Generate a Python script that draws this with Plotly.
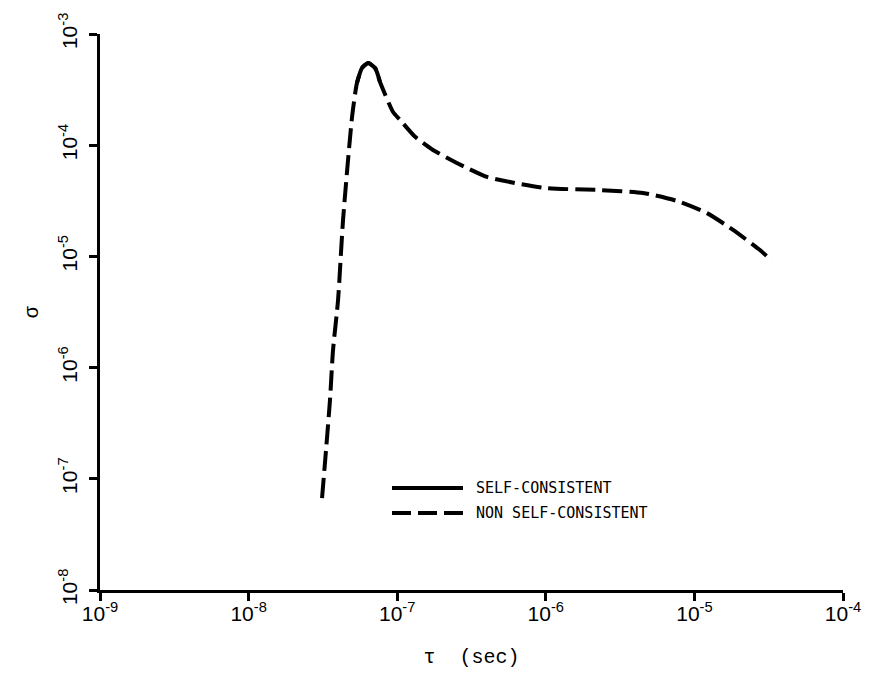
import plotly.graph_objects as go

# Relaxation time tau (sec) and sigma along the computed curve
tau = [3.12e-8, 3.32e-8, 3.53e-8, 3.70e-8, 4.00e-8, 4.32e-8, 4.97e-8, 5.36e-8,
       5.79e-8, 6.37e-8, 7.10e-8, 7.66e-8, 9.38e-8, 1.045e-7, 1.32e-7, 1.74e-7,
       2.52e-7, 4.02e-7, 4.92e-7, 9.9e-7, 2.32e-6, 4.51e-6, 7.64e-6, 1.216e-5,
       1.82e-5, 2.76e-5, 3.33e-5]
sigma = [6.7e-8, 1.82e-7, 5.12e-7, 1.44e-6, 4.06e-6, 2.12e-5, 1.80e-4, 3.62e-4,
         4.94e-4, 5.48e-4, 4.94e-4, 3.70e-4, 1.99e-4, 1.69e-4, 1.19e-4, 9.06e-5,
         6.92e-5, 5.18e-5, 4.86e-5, 4.12e-5, 3.95e-5, 3.72e-5, 3.15e-5, 2.45e-5,
         1.73e-5, 1.14e-5, 9.1e-6]

# Portion of the curve near the peak that is self-consistent
solid_from, solid_to = 7, 11

x_ticks = [1e-9, 1e-8, 1e-7, 1e-6, 1e-5, 1e-4]
x_labels = ["10<sup>-9</sup>", "10<sup>-8</sup>", "10<sup>-7</sup>",
            "10<sup>-6</sup>", "10<sup>-5</sup>", "10<sup>-4</sup>"]
y_ticks = [1e-8, 1e-7, 1e-6, 1e-5, 1e-4, 1e-3]
y_labels = ["10<sup>-8</sup>", "10<sup>-7</sup>", "10<sup>-6</sup>",
            "10<sup>-5</sup>", "10<sup>-4</sup>", "10<sup>-3</sup>"]

legend_names = ["SELF-CONSISTENT", "NON SELF-CONSISTENT"]

DASH = "20px,7px"
LW = 4

fig = go.Figure()
fig.add_trace(go.Scatter(x=tau, y=sigma, mode="lines",
                         line=dict(color="black", width=LW, dash=DASH,
                                   shape="spline", smoothing=0.6),
                         showlegend=False))
fig.add_trace(go.Scatter(x=tau[solid_from:solid_to + 1], y=sigma[solid_from:solid_to + 1],
                         mode="lines",
                         line=dict(color="black", width=LW, shape="spline", smoothing=0.6),
                         showlegend=False))

# Hand-placed key inside the plot area
PL, PR, PT, PB = 100, 843, 34, 590


def px(x):
    return (x - PL) / (PR - PL)


def py(y):
    return (PB - y) / (PB - PT)


key_rows = [488, 513]
for i, (row, name) in enumerate(zip(key_rows, legend_names)):
    fig.add_shape(type="line", xref="paper", yref="paper",
                  x0=px(392), x1=px(463), y0=py(row), y1=py(row),
                  line=dict(color="black", width=LW, dash=None if i == 0 else "19px,7px"))
    fig.add_annotation(xref="paper", yref="paper", x=px(474), y=py(row),
                       xanchor="left", yanchor="middle", showarrow=False,
                       text=name,
                       font=dict(family="DejaVu Sans Mono", size=15, color="black"))

axis_common = dict(
    type="log", showgrid=False, zeroline=False, showline=True,
    linecolor="black", linewidth=2.5, mirror=False, automargin=False,
    ticks="outside", ticklen=8, tickwidth=2.5, tickcolor="black",
    tickfont=dict(family="Liberation Sans", size=21, color="black"),
)

fig.update_layout(
    width=869, height=686,
    margin=dict(l=PL, r=869 - PR, t=PT, b=686 - PB),
    paper_bgcolor="white", plot_bgcolor="white",
    xaxis=dict(range=[-9, -4], tickvals=x_ticks, ticktext=x_labels,
               ticklabelstandoff=-5,
               title=dict(text="τ  (sec)", standoff=26,
                          font=dict(family="Liberation Mono", size=20, color="black")),
               **axis_common),
    yaxis=dict(range=[-8, -3], tickvals=y_ticks, ticktext=y_labels, tickangle=-90,
               ticklabelstandoff=4,
               title=dict(text="σ", standoff=12,
                          font=dict(family="Liberation Sans", size=20, color="black")),
               **axis_common),
)

fig.write_html("out.html")
